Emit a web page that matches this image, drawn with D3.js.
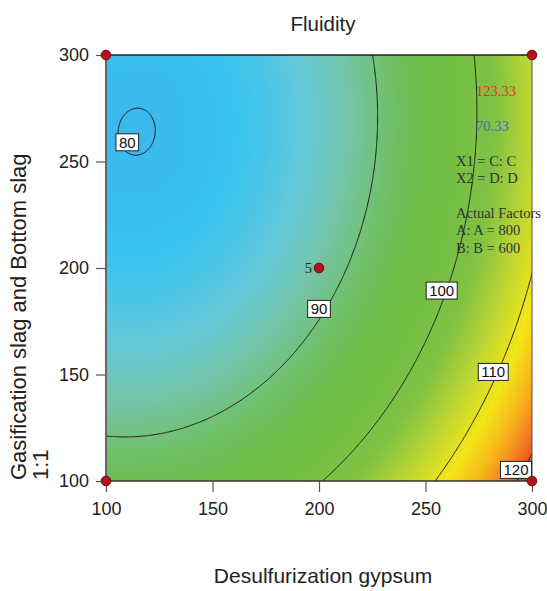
<!DOCTYPE html>
<html lang="en">
<head>
<meta charset="UTF-8">
<title>Fluidity - contour plot</title>
<script src="https://d3js.org/d3.v7.min.js"></script>
<style>
    body { margin: 0; background: #fff; }
    svg text { font-family: Arial, "Liberation Sans", Helvetica, sans-serif; fill: #222; }
    .serif { font-family: "Times New Roman", "Liberation Serif", serif !important; }
    .tick text { font-size: 18px; }
    .tick line { stroke: #555; stroke-width: 1.2; }
    .contour { fill: none; stroke: #1a1a1a; stroke-width: 1; }
    .clabel rect { fill: #fff; stroke: #222; stroke-width: 1; }
    .clabel text { font-size: 15px; fill: #111; }
    .point { fill: #b3141c; stroke: #6e0a0e; stroke-width: 1; }
</style>
</head>
<body>
<div id="chart"></div>
<script>
// factor levels of the grid (C = desulfurization gypsum, D = slag 1:1)
const gridX = [100, 150, 200, 250, 300];
const gridY = [100, 150, 200, 250, 300];
// predicted fluidity at grid nodes, rows follow gridY, columns follow gridX
const fluidity = [
    [93.168, 94.495, 99.762, 108.969, 122.117],
    [86.386, 87.563, 92.681, 101.738, 114.735],
    [82.059, 83.087, 88.054, 96.961, 109.808],
    [80.188, 81.065, 85.882, 94.639, 107.337],
    [80.771, 81.498, 86.165, 94.773, 107.320]
];
const contourLevels = [80, 90, 100, 110, 120];
// where the contour labels sit (factor units)
const labelX = [110, 200, 257.6, 281.8, 292.5];
const labelY = [259, 180.8, 189.4, 151.2, 105.2];
// design points
const designX = [100, 100, 300, 300, 200];
const designY = [100, 300, 300, 100, 200];
const designReps = [1, 1, 1, 1, 5];
const responseRange = [70.33, 123.33];
const xTicks = [100, 150, 200, 250, 300];
const yTicks = [100, 150, 200, 250, 300];
const factorLines = ["X1 = C: C", "X2 = D: D", "", "Actual Factors", "A: A = 800", "B: B = 600"];

const W = 547, H = 591;
const margin = { top: 55, left: 106 }, size = 426;

const svg = d3.select("#chart").append("svg")
    .attr("width", W).attr("height", H);

const x = d3.scaleLinear().domain([100, 300]).range([margin.left, margin.left + size]);
const y = d3.scaleLinear().domain([100, 300]).range([margin.top + size, margin.top]);

// colour ramp used by the heat map (fraction of response range)
const rampT = [0, 0.17, 0.21, 0.27, 0.33, 0.39, 0.46, 0.6, 0.69, 0.77, 0.84, 0.9, 0.96, 1];
const rampC = ["#2a6fd6", "#3db5eb", "#36c3f1", "#62c8da", "#75c4a6", "#70c06a", "#6bbd45",
               "#80c243", "#bfd731", "#f3e616", "#f7b61b", "#f27d22", "#e3401f", "#dc2c1e"];
const color = d3.scaleLinear()
    .domain(rampT.map(t => responseRange[0] + t * (responseRange[1] - responseRange[0])))
    .range(rampC).clamp(true);

// surface through the grid nodes
function weights(nodes, t) {
    return nodes.map((xi, i) => {
        let w = 1;
        nodes.forEach((xj, j) => { if (j !== i) w *= (t - xj) / (xi - xj); });
        return w;
    });
}
function surfaceW(wx, wy) {
    let s = 0;
    for (let i = 0; i < gridY.length; i++)
        for (let j = 0; j < gridX.length; j++) s += wy[i] * wx[j] * fluidity[i][j];
    return s;
}

// heat map
const canvas = document.createElement("canvas");
canvas.width = size; canvas.height = size;
const ctx = canvas.getContext("2d");
const img = ctx.createImageData(size, size);
const colW = d3.range(size).map(i => weights(gridX, x.invert(margin.left + i + 0.5)));
const rowW = d3.range(size).map(j => weights(gridY, y.invert(margin.top + j + 0.5)));
for (let j = 0; j < size; j++) {
    for (let i = 0; i < size; i++) {
        const c = d3.rgb(color(surfaceW(colW[i], rowW[j])));
        const k = (j * size + i) * 4;
        img.data[k] = c.r; img.data[k + 1] = c.g; img.data[k + 2] = c.b; img.data[k + 3] = 255;
    }
}
ctx.putImageData(img, 0, 0);

svg.append("image")
    .attr("x", margin.left).attr("y", margin.top)
    .attr("width", size).attr("height", size)
    .attr("href", canvas.toDataURL());

svg.append("defs").append("clipPath").attr("id", "clip")
    .append("rect").attr("x", margin.left).attr("y", margin.top)
    .attr("width", size).attr("height", size);

// contour lines, sampled a little past the edges and clipped
const step = 0.5, x0 = 96, y0 = 304;
const n = Math.round((304 - 96) / step) + 1;
const sxW = d3.range(n).map(i => weights(gridX, x0 + i * step));
const syW = d3.range(n).map(j => weights(gridY, y0 - j * step));
const values = new Array(n * n);
for (let j = 0; j < n; j++)
    for (let i = 0; i < n; i++) values[j * n + i] = surfaceW(sxW[i], syW[j]);

const contours = d3.contours().size([n, n]).thresholds(contourLevels)(values);
const path = d3.geoPath(d3.geoTransform({
    point: function (px, py) {
        this.stream.point(x(x0 + (px - 0.5) * step), y(y0 - (py - 0.5) * step));
    }
}));
svg.append("g").attr("clip-path", "url(#clip)")
    .selectAll("path").data(contours).join("path")
    .attr("class", "contour")
    .attr("d", path);

// frame
svg.append("line").attr("x1", margin.left).attr("x2", margin.left + size)
    .attr("y1", margin.top).attr("y2", margin.top).attr("stroke", "#222").attr("stroke-width", 1.3);
svg.append("line").attr("x1", margin.left + size).attr("x2", margin.left + size)
    .attr("y1", margin.top).attr("y2", margin.top + size).attr("stroke", "#555").attr("stroke-width", 1);
svg.append("line").attr("x1", margin.left).attr("x2", margin.left + size)
    .attr("y1", margin.top + size).attr("y2", margin.top + size).attr("stroke", "#333").attr("stroke-width", 1.5);
svg.append("line").attr("x1", margin.left).attr("x2", margin.left)
    .attr("y1", margin.top).attr("y2", margin.top + size).attr("stroke", "#666").attr("stroke-width", 2);

// axes
const xAxis = svg.append("g")
    .attr("transform", `translate(0,${margin.top + size})`)
    .call(d3.axisBottom(x).tickValues(xTicks).tickSize(11).tickPadding(10));
const yAxis = svg.append("g")
    .attr("transform", `translate(${margin.left},0)`)
    .call(d3.axisLeft(y).tickValues(yTicks).tickSize(10).tickPadding(7));
[xAxis, yAxis].forEach(a => {
    a.select(".domain").remove();
    a.selectAll("text").attr("font-family", null).attr("font-size", null);
});

// contour labels
const labels = svg.append("g").selectAll("g")
    .data(contourLevels).join("g")
    .attr("class", "clabel")
    .attr("transform", (d, i) => `translate(${x(labelX[i])},${y(labelY[i])})`);
labels.append("text")
    .attr("text-anchor", "middle").attr("dy", "0.36em")
    .text(d => d);
labels.each(function () {
    const g = d3.select(this);
    const w = g.select("text").node().getComputedTextLength();
    g.insert("rect", "text")
        .attr("x", -w / 2 - 3).attr("y", -8.5)
        .attr("width", w + 6).attr("height", 17);
});

// design points
svg.append("g").selectAll("circle")
    .data(designX).join("circle")
    .attr("class", "point")
    .attr("cx", d => x(d))
    .attr("cy", (d, i) => y(designY[i]))
    .attr("r", 4.8);
svg.append("g").selectAll("text")
    .data(designReps.filter(r => r > 1)).join("text")
    .attr("class", "serif")
    .attr("x", () => x(designX[4]) - 7)
    .attr("y", () => y(designY[4]) + 4.5)
    .attr("text-anchor", "end")
    .attr("font-size", 14.5)
    .text(d => d);

// legend text
svg.append("text").attr("class", "serif")
    .attr("x", 476).attr("y", 96).attr("font-size", 14.5)
    .style("fill", "#e3322b").text(responseRange[1].toFixed(2));
svg.append("text").attr("class", "serif")
    .attr("x", 476).attr("y", 131).attr("font-size", 14.5)
    .style("fill", "#4a6db0").text(responseRange[0].toFixed(2));
svg.append("g").selectAll("text")
    .data(factorLines).join("text")
    .attr("class", "serif")
    .attr("x", 456)
    .attr("y", (d, i) => 166 + i * 17.3)
    .attr("font-size", 14.5)
    .style("fill", "#333")
    .text(d => d);

// titles
svg.append("text")
    .attr("x", 323).attr("y", 31)
    .attr("text-anchor", "middle").attr("font-size", 20.5)
    .text("Fluidity");
svg.append("text")
    .attr("x", 323).attr("y", 583)
    .attr("text-anchor", "middle").attr("font-size", 21)
    .text("Desulfurization gypsum");
const yTitle = svg.append("g").attr("transform", "translate(0,480) rotate(-90)");
yTitle.append("text").attr("x", 0).attr("y", 26).attr("font-size", 22)
    .text("Gasification slag and Bottom slag");
yTitle.append("text").attr("x", 0).attr("y", 48).attr("font-size", 22)
    .text("1:1");
</script>
</body>
</html>
